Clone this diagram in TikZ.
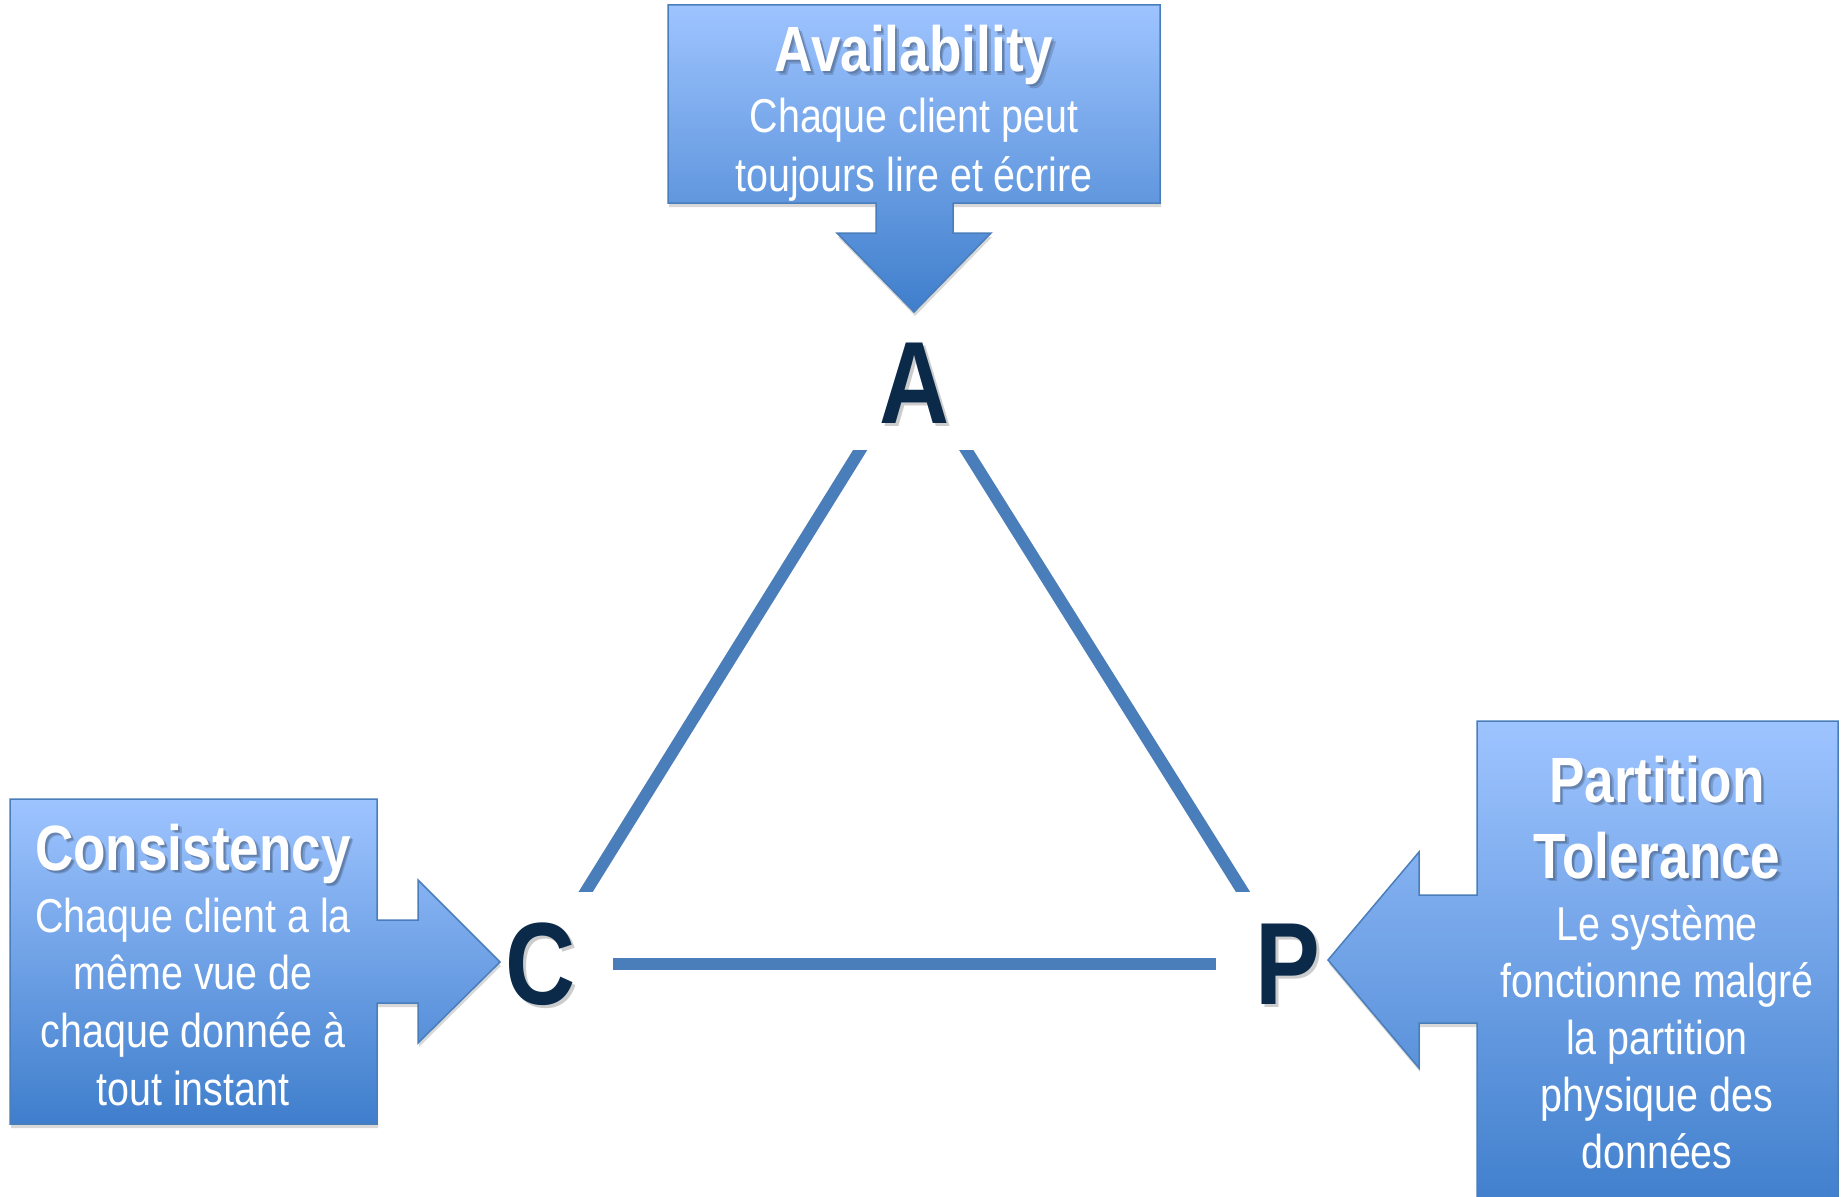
\documentclass[tikz,border=0pt]{standalone}
\usepackage{fontspec}
\newfontfamily\narrowsans[FakeStretch=0.83]{Liberation Sans}
\usetikzlibrary{shadows}

\definecolor{boxtop}{HTML}{9EC4FF}
\definecolor{boxbot}{HTML}{3F7ECC}
\definecolor{boxedge}{HTML}{4A7EBB}
\definecolor{edgeblue}{HTML}{4A7EBB}
\definecolor{letterink}{HTML}{0B2A4A}

% centred lines whose baseline is that of the first line
\newcommand\centredlines[1]{\vtop{\halign{\hfil##\hfil\cr#1\crcr}}}

\tikzset{
  callout/.style={top color=boxtop, bottom color=boxbot, draw=boxedge,
    line width=1.5pt, line join=miter,
    drop shadow={shadow xshift=1pt, shadow yshift=-4pt, opacity=0.3}},
  headtext/.style={inner sep=0pt, anchor=base, text=white,
    font=\narrowsans\bfseries\fontsize{64}{76}\selectfont},
  headshade/.style={headtext, text=black, opacity=0.16, xshift=#1pt, yshift=-#1pt},
  bodytext/.style={inner sep=0pt, anchor=base, text=white,
    font=\narrowsans\fontsize{47.5}{57.5}\selectfont},
  vertex/.style={inner sep=0pt, anchor=base, text=letterink,
    font=\narrowsans\bfseries\fontsize{117}{120}\selectfont},
  vertexshade/.style={vertex, text=black, opacity=0.2, xshift=3pt, yshift=-3pt},
  side/.style={draw=edgeblue, line width=12pt},
  sideshade/.style={draw=black, opacity=0.12, line width=12pt, xshift=3pt, yshift=-2pt},
}

\begin{document}
\begin{tikzpicture}[x=1pt, y=-1pt]
  \useasboundingbox (0,0) rectangle (1843,1196);
  \fill[white] (0,0) rectangle (1843,1196);

  % Availability callout (pointing down)
  \path[callout] (668,5) -- (1160,5) -- (1160,203) -- (953,203) -- (953,233)
    -- (991,233) -- (914,312) -- (837,233) -- (876,233) -- (876,203)
    -- (668,203) -- cycle;
  \node[headshade=2] (availshadea) at (914,72) {Availability};
  \node[headshade=3.5] (availshadeb) at (914,72) {Availability};
  \node[headtext] (avail) at (914,72) {Availability};
  \node[bodytext, font=\narrowsans\fontsize{47.5}{59}\selectfont] (availtext) at (914,132)
    {\centredlines{Chaque client peut\cr toujours lire et écrire}};

  % Consistency callout (pointing right)
  \path[callout] (10,799) -- (377,799) -- (377,920) -- (418,920) -- (418,880)
    -- (500,962) -- (418,1043) -- (418,1003) -- (377,1003) -- (377,1124)
    -- (10,1124) -- cycle;
  \node[headshade=2] (consshadea) at (193,870) {Consistency};
  \node[headshade=3.5] (consshadeb) at (193,870) {Consistency};
  \node[headtext] (cons) at (193,870) {Consistency};
  \node[bodytext, font=\narrowsans\fontsize{47.5}{57.7}\selectfont] (constext) at (193,932)
    {\centredlines{Chaque client a la\cr même vue de\cr chaque donnée à\cr tout instant}};

  % Partition Tolerance callout (pointing left)
  \begin{scope}
    \clip (0,0) rectangle (1843,1196);
    \path[callout] (1477,721) -- (1838,721) -- (1838,1212) -- (1477,1212)
      -- (1477,1023) -- (1419,1023) -- (1419,1068) -- (1328,960) -- (1419,852)
      -- (1419,895) -- (1477,895) -- cycle;
  \end{scope}
  \node[headshade=2] (partshadea) at (1657,802) {\centredlines{Partition\cr Tolerance}};
  \node[headshade=3.5] (partshadeb) at (1657,802) {\centredlines{Partition\cr Tolerance}};
  \node[headtext] (part) at (1657,802) {\centredlines{Partition\cr Tolerance}};
  \node[bodytext, font=\narrowsans\fontsize{47.5}{57}\selectfont] (parttext) at (1657,940)
    {\centredlines{Le système\cr fonctionne malgré\cr la partition\cr physique des\cr données}};

  % the three vertices
  \node[vertexshade] (Ashade) at (915,423) {A};
  \node[vertex] (A) at (915,423) {A};
  \node[vertexshade] (Cshade) at (541,1004) {C};
  \node[vertex] (C) at (541,1004) {C};
  \node[vertexshade] (Pshade) at (1288,1004) {P};
  \node[vertex] (P) at (1288,1004) {P};

  % point where the two slanted sides meet, just above the A
  \coordinate (apex) at (913,365);

  % triangle sides
  \begin{scope}
    \clip (0,450) rectangle (1843,891);
    \draw[sideshade] (apex) -- (C.center);
    \draw[sideshade] (apex) -- (P.center);
    \draw[side] (apex) -- (C.center);
    \draw[side] (apex) -- (P.center);
  \end{scope}
  \draw[sideshade, shorten <=72pt, shorten >=72pt] (C.center) -- (P.center |- C.center);
  \draw[side, shorten <=72pt, shorten >=72pt] (C.center) -- (P.center |- C.center);
\end{tikzpicture}
\end{document}
